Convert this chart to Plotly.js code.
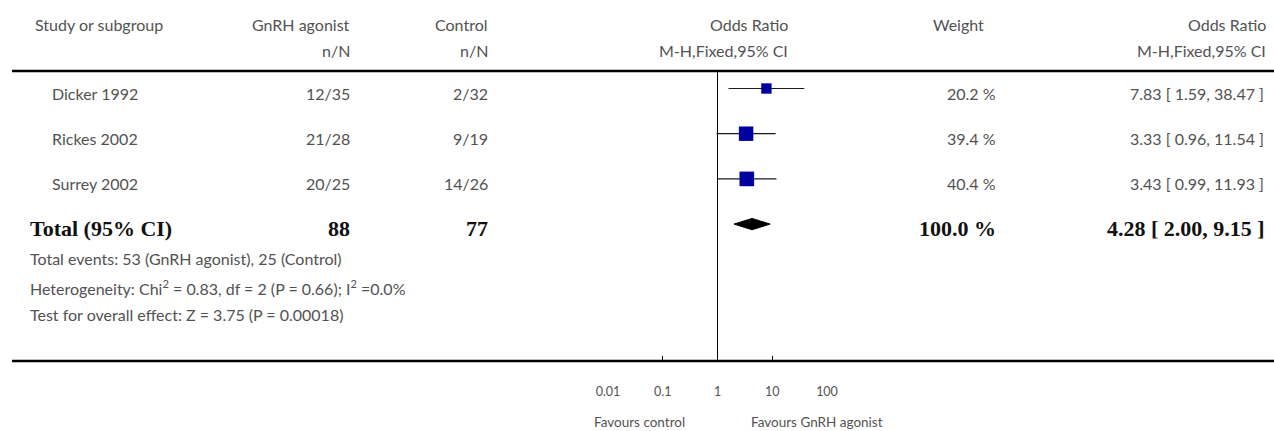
<!DOCTYPE html>
<html>
<head>
<meta charset="utf-8">
<script src="https://cdn.plot.ly/plotly-3.0.1.min.js"></script>
<style>html,body{margin:0;padding:0;background:#fff;}#chart{width:1274px;height:431px;}</style>
</head>
<body>
<div id="chart"></div>
<script>
// ---- data ----
const studies = ['Dicker 1992', 'Rickes 2002', 'Surrey 2002'];
const treatEvents = ['12/35', '21/28', '20/25'];
const ctrlEvents = ['2/32', '9/19', '14/26'];
const oddsRatio = [7.83, 3.33, 3.43];
const ciLow = [1.59, 0.96, 0.99];
const ciHigh = [38.47, 11.54, 11.93];
const weights = [20.2, 39.4, 40.4];
const totalLabel = 'Total (95% CI)';
const totalTreatN = 88;
const totalCtrlN = 77;
const totalOR = 4.28;
const totalLow = 2.00;
const totalHigh = 9.15;
const totalWeight = 100.0;
const statLines = [
  'Total events: 53 (GnRH agonist), 25 (Control)',
  'Heterogeneity: Chi<sup>2</sup> = 0.83, df = 2 (P = 0.66); I<sup>2</sup> =0.0%',
  'Test for overall effect: Z = 3.75 (P = 0.00018)'
];
const tickVals = [0.01, 0.1, 1, 10, 100];
const tickText = ['0.01', '0.1', '1', '10', '100'];
const favourLeft = 'Favours control';
const favourRight = 'Favours GnRH agonist';

// ---- geometry helpers ----
const W = 1274, H = 431;
const px = x => x / W;
const py = y => 1 - y / H;
const ROW0 = 88.5, ROWH = 45.2;
const COL_T = 352, COL_C = 490, COL_OR = 790, COL_W = 998, COL_R = 1267;

const FONT = 'Lato, "Open Sans", sans-serif';
const GRAY = '#525252';
const f = (size, color) => ({family: FONT, size: size, color: color || GRAY});
const fb = {family: '"Liberation Serif", "DejaVu Serif", serif', size: 22, color: '#111'};
const FS = 16;

const fmt2 = v => v.toFixed(2);
const ciText = (o, l, h) => fmt2(o) + ' [ ' + fmt2(l) + ', ' + fmt2(h) + ' ]';

const traces = [];
studies.forEach((s, i) => {
  traces.push({x: [ciLow[i], ciHigh[i]], y: [i, i], mode: 'lines', type: 'scatter',
    line: {color: '#1a1a1a', width: 1.2}, hoverinfo: 'skip', cliponaxis: false});
});
traces.push({x: oddsRatio, y: studies.map((s, i) => i), mode: 'markers', type: 'scatter',
  marker: {symbol: 'square', color: '#0000a0', opacity: 1, size: weights.map(w => 2.3 * Math.sqrt(w)),
    line: {width: 0}}, cliponaxis: false});
const tr = studies.length, dh = 0.125;
traces.push({x: [totalLow, totalOR, totalHigh, totalOR, totalLow],
  y: [tr, tr - dh, tr, tr + dh, tr], mode: 'lines', type: 'scatter', fill: 'toself',
  fillcolor: '#000', line: {color: '#000', width: 1}, cliponaxis: false});

const ann = [];
const A = (text, x, y, xanchor, font, yref, yshift) => ann.push({text: text, x: x, y: y,
  xref: 'paper', yref: yref || 'paper', xanchor: xanchor, yanchor: 'middle', showarrow: false,
  font: font, yshift: yshift || 0});

const TS = -4.5; // row text sits slightly below the marker centre
// headers
A('Study or subgroup', px(33), py(24), 'left', f(FS));
A('GnRH agonist', px(COL_T), py(24), 'right', f(FS));
A('n/N', px(COL_T), py(50), 'right', f(FS));
A('Control', px(COL_C), py(24), 'right', f(FS));
A('n/N', px(COL_C), py(50), 'right', f(FS));
A('Odds Ratio', px(COL_OR), py(24), 'right', f(FS));
A('M-H,Fixed,95% CI', px(COL_OR), py(50), 'right', f(FS));
A('Weight', px(986), py(24), 'right', f(FS));
A('Odds Ratio', px(COL_R + 1), py(24), 'right', f(FS));
A('M-H,Fixed,95% CI', px(COL_R + 1), py(50), 'right', f(FS));

studies.forEach((s, i) => {
  A(s, px(50), i, 'left', f(FS), 'y', TS);
  A(treatEvents[i], px(COL_T), i, 'right', f(FS), 'y', TS);
  A(ctrlEvents[i], px(COL_C), i, 'right', f(FS), 'y', TS);
  A(weights[i].toFixed(1) + ' %', px(COL_W), i, 'right', f(FS), 'y', TS);
  A(ciText(oddsRatio[i], ciLow[i], ciHigh[i]), px(COL_R - 1), i, 'right', f(FS), 'y', TS);
});
A('<b>' + totalLabel + '</b>', px(28), tr, 'left', fb, 'y', TS);
A('<b>' + totalTreatN + '</b>', px(COL_T), tr, 'right', fb, 'y', TS);
A('<b>' + totalCtrlN + '</b>', px(COL_C), tr, 'right', fb, 'y', TS);
A('<b>' + totalWeight.toFixed(1) + ' %</b>', px(COL_W), tr, 'right', fb, 'y', TS);
A('<b>' + ciText(totalOR, totalLow, totalHigh) + '</b>', px(COL_R), tr, 'right', fb, 'y', TS);

const statY = [258, 287, 314];
statLines.forEach((t, k) => A(t, px(28), py(statY[k]), 'left', f(16)));

A(favourLeft, px(639), py(422), 'center', f(13.5));
A(favourRight, px(817), py(422), 'center', f(13.5));

const shapes = [
  {type: 'line', xref: 'paper', yref: 'paper', x0: px(12), x1: 1, y0: py(71), y1: py(71),
    line: {color: '#000', width: 2.4}},
  {type: 'line', xref: 'paper', yref: 'paper', x0: px(12), x1: 1, y0: py(361), y1: py(361),
    line: {color: '#000', width: 2.4}},
  {type: 'line', xref: 'x', yref: 'paper', x0: 1, x1: 1, y0: py(71), y1: py(361),
    line: {color: '#000', width: 1}}
];

const layout = {
  width: W, height: H,
  margin: {l: 0, r: 0, t: 0, b: 0},
  paper_bgcolor: '#fff', plot_bgcolor: 'rgba(0,0,0,0)',
  showlegend: false,
  xaxis: {type: 'log', domain: [px(608), px(827)], range: [-2, 2], anchor: 'free', position: py(361),
    tickvals: tickVals, ticktext: tickText, ticks: 'inside', ticklen: 5, tickwidth: 1, tickcolor: '#000',
    showline: false, showgrid: false, zeroline: false, tickfont: f(12.5), ticklabelstandoff: 21,
    fixedrange: true},
  yaxis: {domain: [0, 1], range: [(H - ROW0) / ROWH, -ROW0 / ROWH], visible: false, fixedrange: true},
  annotations: ann,
  shapes: shapes
};

Plotly.newPlot('chart', traces, layout, {staticPlot: true, displayModeBar: false});
</script>
</body>
</html>
